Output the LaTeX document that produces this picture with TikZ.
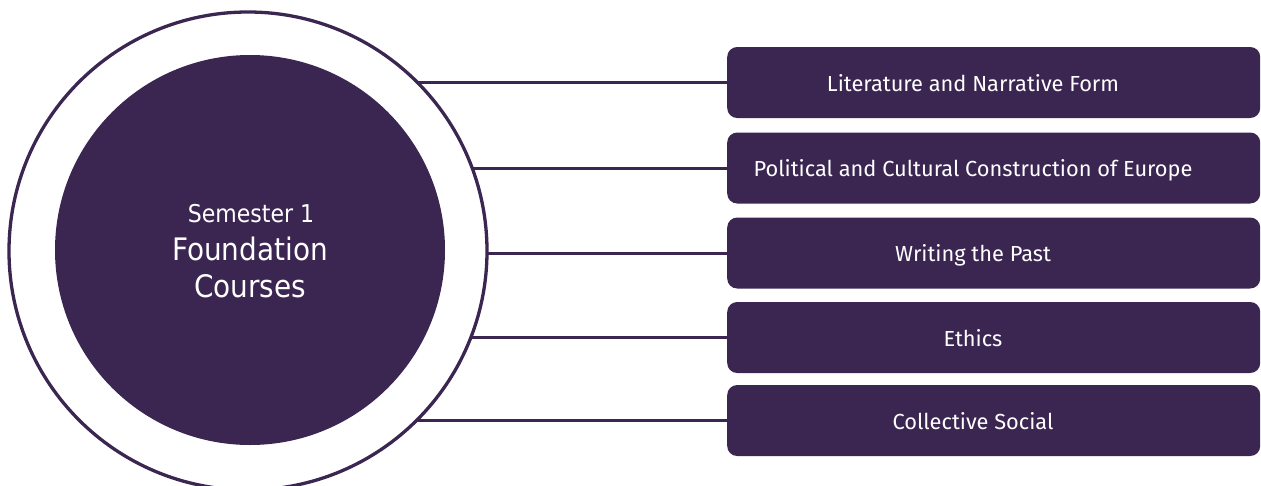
\documentclass[tikz,border=0pt]{standalone}
\usepackage{fontspec}
\setmainfont{Fira Sans}
\newfontfamily\circfont{DejaVu Sans Condensed}
\usetikzlibrary{backgrounds}
\definecolor{plum}{HTML}{3B2652}
\tikzset{
  coursebox/.style={fill=plum, rounded corners=10pt, minimum width=533pt, minimum height=71pt, inner sep=0pt, anchor=west},
  boxtext/.style={text=white, font=\fontsize{21.8}{24}\selectfont, inner sep=0pt, anchor=base},
  titletext/.style={text=white, inner sep=0pt, anchor=base},
  link/.style={draw=plum, line width=3pt}
}
\begin{document}
\begin{tikzpicture}[x=1pt,y=-1pt]
\useasboundingbox (0,0) rectangle (1261,485);
\node[circle, draw=plum, line width=3.3pt, fill=white, minimum size=478pt, inner sep=0pt] (outer) at (248,251) {};
\node[circle, fill=plum, minimum size=390pt, inner sep=0pt] (inner) at (250,250) {};
\node[titletext, font=\circfont\fontsize{24.5}{28}\selectfont] (sem) at (251,222) {Semester 1};
\node[titletext, font=\circfont\fontsize{31}{34}\selectfont] (found) at (250,260) {Foundation};
\node[titletext, font=\circfont\fontsize{31}{34}\selectfont] (courses) at (250,297) {Courses};
\foreach \i/\y/\t in {1/82.5/Literature and Narrative Form,
                      2/168/Political and Cultural Construction of Europe,
                      3/253/Writing the Past,
                      4/337.5/Ethics,
                      5/420.5/Collective Social}{
  \node[coursebox] (box\i) at (727,\y) {};
  \node[boxtext] (lab\i) at (973,\y+8.5) {\t};
}
\begin{scope}[on background layer]
\foreach \i in {1,...,5}{
  \draw[link] (box\i.west) -- (outer.center |- box\i.west);
}
\end{scope}
\end{tikzpicture}
\end{document}
